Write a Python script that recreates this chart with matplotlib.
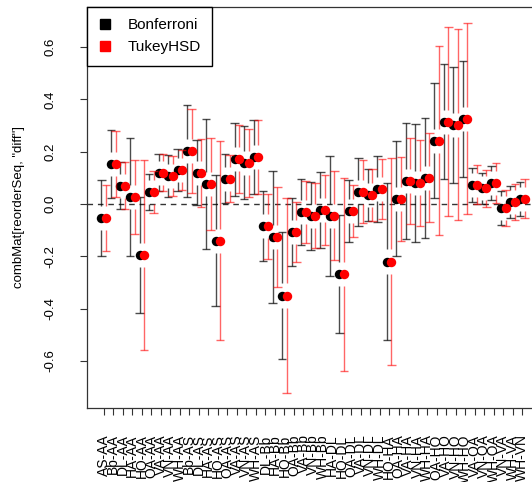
import numpy as np
import matplotlib.pyplot as plt

plt.rcParams['font.family'] = ['Liberation Sans', 'DejaVu Sans']

# group levels; comparisons are listed in TukeyHSD order (later level minus earlier level)
groups = ["AA", "AS", "Bb", "DL", "HA", "HO", "OA", "VA", "VN", "WH"]
pair_labels = [f"{groups[i]}-{groups[j]}"
               for j in range(len(groups)) for i in range(j + 1, len(groups))]

diff = [-0.053, 0.153, 0.069, 0.027, -0.195, 0.046, 0.120, 0.107, 0.130,
        0.203, 0.120, 0.076, -0.140, 0.097, 0.171, 0.158, 0.180,
        -0.085, -0.126, -0.350, -0.107, -0.031, -0.045, -0.023,
        -0.045, -0.268, -0.027, 0.047, 0.035, 0.057,
        -0.220, 0.020, 0.088, 0.080, 0.100,
        0.242, 0.315, 0.303, 0.325,
        0.073, 0.060, 0.080,
        -0.015, 0.007,
        0.020]

# half widths of the confidence intervals
bonf_half = [0.146, 0.130, 0.090, 0.225, 0.222, 0.070, 0.070, 0.080, 0.080,
             0.175, 0.125, 0.250, 0.250, 0.095, 0.140, 0.140, 0.140,
             0.133, 0.252, 0.242, 0.130, 0.126, 0.130, 0.145,
             0.230, 0.226, 0.117, 0.130, 0.100, 0.125,
             0.300, 0.220, 0.223, 0.224, 0.230,
             0.221, 0.220, 0.222, 0.223,
             0.065, 0.060, 0.065,
             0.065, 0.060,
             0.065]
tukey_half = [0.125, 0.125, 0.090, 0.140, 0.365, 0.080, 0.070, 0.075, 0.075,
              0.160, 0.130, 0.175, 0.380, 0.090, 0.130, 0.130, 0.140,
              0.125, 0.191, 0.372, 0.113, 0.120, 0.125, 0.135,
              0.170, 0.369, 0.100, 0.120, 0.100, 0.115,
              0.395, 0.160, 0.163, 0.164, 0.170,
              0.362, 0.362, 0.365, 0.365,
              0.075, 0.070, 0.075,
              0.070, 0.070,
              0.075]

diff = np.array(diff)
bonf_lo, bonf_hi = diff - np.array(bonf_half), diff + np.array(bonf_half)
tukey_lo, tukey_hi = diff - np.array(tukey_half), diff + np.array(tukey_half)
x = np.arange(1, len(diff) + 1)

fig = plt.figure(figsize=(5.32, 4.82), dpi=100)
ax = fig.add_axes([87 / 532, 74 / 482, 452 / 532, 401 / 482])


def ci_bars(ax, xs, ys, lo, hi, color, alpha, gap=0.046, cap=0.45):
    """plotCI-style bars: a gap around the point and flat caps at both ends."""
    kw = dict(color=color, lw=1.0, alpha=alpha, solid_capstyle='butt')
    for xi, yi, l, h in zip(xs, ys, lo, hi):
        if h > yi + gap:
            ax.plot([xi, xi], [yi + gap, h], **kw)
        if l < yi - gap:
            ax.plot([xi, xi], [l, yi - gap], **kw)
        ax.plot([xi - cap, xi + cap], [h, h], **kw)
        ax.plot([xi - cap, xi + cap], [l, l], **kw)


ax.axhline(0, color='#333333', lw=1.0, ls=(0, (4, 3.5)))
ci_bars(ax, x - 0.24, diff, bonf_lo, bonf_hi, 'black', 0.7)
ax.plot(x - 0.24, diff, 'o', color='black', ms=6.8, mec='none')
ci_bars(ax, x + 0.24, diff, tukey_lo, tukey_hi, 'red', 0.6)
ax.plot(x + 0.24, diff, 'o', color='red', ms=6.8, mec='none')

ax.set_xlim(-0.76, 46.76)
ax.set_ylim(-0.78, 0.753)
ax.set_yticks([-0.6, -0.4, -0.2, 0.0, 0.2, 0.4, 0.6])
ax.set_yticklabels(['-0.6', '-0.4', '-0.2', '0.0', '0.2', '0.4', '0.6'],
                   rotation=90, va='center', fontsize=9.5)
ax.set_xticks(x)
ax.set_xticklabels(pair_labels, rotation=90, fontsize=10)
ax.tick_params(axis='both', length=5, width=0.8, color='#333333')
ax.tick_params(axis='y', pad=17)
ax.tick_params(axis='x', pad=14)
ax.set_ylabel('combMat[reorderSeq, "diff"]', fontsize=9.5)
ax.yaxis.set_label_coords(-0.137, 0.5)
for s in ax.spines.values():
    s.set_linewidth(0.9)
    s.set_color('#333333')

leg_handles = [plt.Line2D([], [], ls='none', marker='s', ms=6.5, color=c)
               for c in ('black', 'red')]
ax.legend(leg_handles, ['Bonferroni', 'TukeyHSD'], loc='upper left',
          bbox_to_anchor=(0, 1), borderaxespad=0, fancybox=False,
          edgecolor='black', framealpha=1, fontsize=11, handlelength=0.8,
          handletextpad=1.1, borderpad=0.75, labelspacing=0.5)

fig.savefig('out.png', dpi=100)
